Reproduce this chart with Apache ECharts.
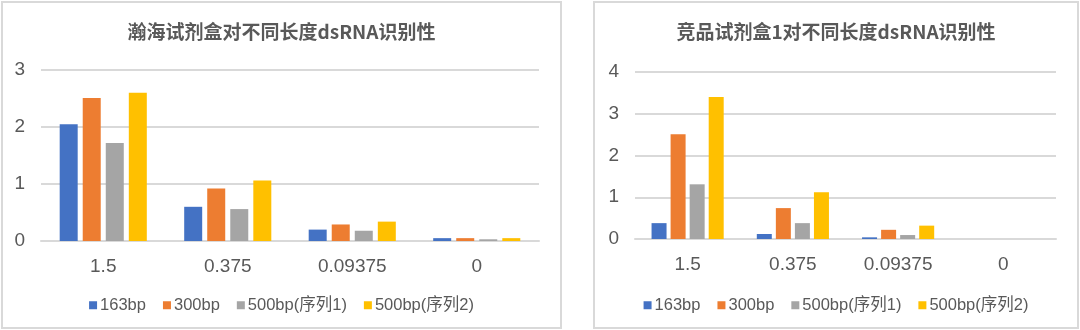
<!DOCTYPE html>
<html>
<head>
<meta charset="utf-8">
<script src="https://cdn.jsdelivr.net/npm/echarts@6/dist/echarts.min.js"></script>
<style>
    html, body { margin: 0; padding: 0; background: #fff; }
    .panel {
        position: absolute;
        top: 1px;
        height: 328px;
        border: 2px solid #d9d9d9;
        box-sizing: border-box;
        background: #fff;
    }
    #left { left: 1px; width: 561px; }
    #right { left: 593px; width: 486px; }
</style>
</head>
<body>
<div id="left" class="panel"></div>
<div id="right" class="panel"></div>
<script>
// 浓度（横轴）
const categories = ['1.5', '0.375', '0.09375', '0'];
const seriesNames = ['163bp', '300bp', '500bp(序列1)', '500bp(序列2)'];
const colors = ['#4472C4', '#ED7D31', '#A5A5A5', '#FFC000'];

// 瀚海试剂盒
const hanhai163 = [2.05, 0.60, 0.20, 0.05];
const hanhai300 = [2.51, 0.92, 0.29, 0.05];
const hanhai500a = [1.72, 0.56, 0.18, 0.03];
const hanhai500b = [2.60, 1.06, 0.34, 0.05];

// 竞品试剂盒1
const rival163 = [0.38, 0.12, 0.04, 0];
const rival300 = [2.51, 0.74, 0.22, 0];
const rival500a = [1.31, 0.38, 0.095, 0];
const rival500b = [3.40, 1.12, 0.32, 0];

const FONT = '"Liberation Sans", "Noto Sans CJK SC", sans-serif';
const TEXT = '#595959';
const GRID_LINE = '#d9d9d9';

// 画一个面板
function drawPanel(id, title, dataList, opt) {
    const chart = echarts.init(document.getElementById(id));
    chart.setOption({
        animation: false,
        color: colors,
        textStyle: { fontFamily: FONT },
        title: {
            text: title,
            left: 'center',
            top: 14,
            textStyle: { fontSize: 19, fontWeight: 'bold', color: TEXT, fontFamily: '"Noto Sans CJK SC", sans-serif' }
        },
        legend: {
            data: seriesNames,
            left: 'center',
            top: 289,
            icon: 'rect',
            itemWidth: 8,
            itemHeight: 8,
            itemGap: 17,
            textStyle: { fontSize: 16.5, color: TEXT, padding: [0, 0, 0, -2] }
        },
        grid: opt.grid,
        xAxis: {
            type: 'category',
            data: categories,
            axisTick: { show: false },
            axisLine: { lineStyle: { color: GRID_LINE, width: 2 } },
            axisLabel: { fontSize: 19, color: TEXT, margin: 16 }
        },
        yAxis: {
            type: 'value',
            min: 0,
            max: opt.max,
            interval: 1,
            axisLine: { show: false },
            axisTick: { show: false },
            axisLabel: { fontSize: 19, color: TEXT, margin: 16 },
            splitLine: { lineStyle: { color: GRID_LINE, width: 2 } }
        },
        series: dataList.map((d, i) => ({
            name: seriesNames[i],
            type: 'bar',
            data: d,
            barWidth: opt.barWidth,
            barGap: opt.barGap
        }))
    });
    return chart;
}

drawPanel('left', '瀚海试剂盒对不同长度dsRNA识别性',
    [hanhai163, hanhai300, hanhai500a, hanhai500b],
    { grid: { left: 38, right: 21, top: 67, bottom: 86 }, max: 3, barWidth: 18, barGap: '28%' });

drawPanel('right', '竞品试剂盒1对不同长度dsRNA识别性',
    [rival163, rival300, rival500a, rival500b],
    { grid: { left: 40, right: 21, top: 69, bottom: 88 }, max: 4, barWidth: 15, barGap: '27%' });
</script>
</body>
</html>
